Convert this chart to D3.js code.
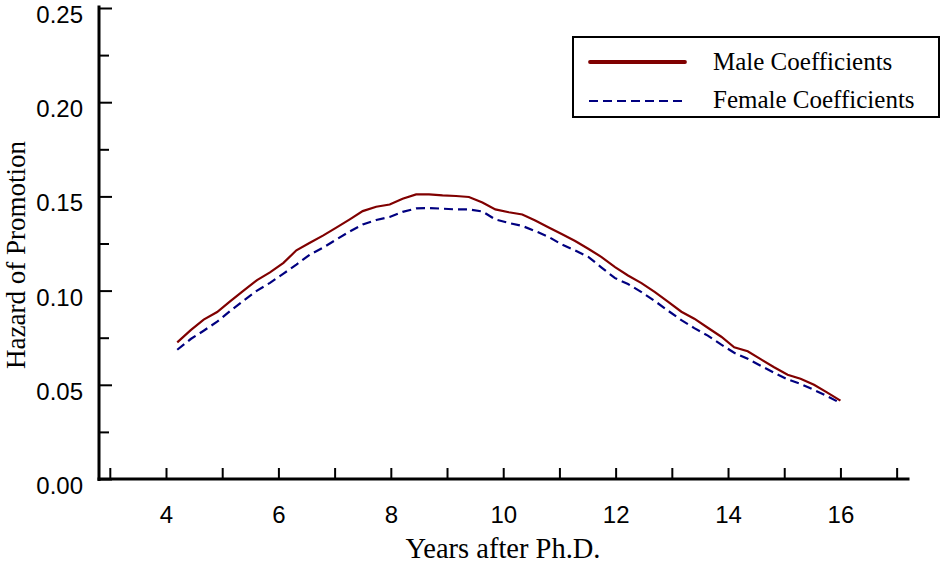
<!DOCTYPE html>
<html>
<head>
<meta charset="utf-8">
<script src="https://cdn.jsdelivr.net/npm/d3@7"></script>
<style>
  body { margin: 0; background: #fff; }
  svg { display: block; }
</style>
</head>
<body>
<script>
// Years after Ph.D. (sample points of both curves)
var years = [4.20, 4.44, 4.67, 4.91, 5.14, 5.38, 5.62, 5.85, 6.09, 6.32,
             6.56, 6.80, 7.03, 7.27, 7.50, 7.74, 7.98, 8.21, 8.45, 8.68,
             8.92, 9.16, 9.39, 9.63, 9.86, 10.10, 10.34, 10.57, 10.81, 11.04,
             11.28, 11.52, 11.75, 11.99, 12.22, 12.46, 12.70, 12.93, 13.17, 13.40,
             13.64, 13.88, 14.11, 14.35, 14.58, 14.82, 15.06, 15.29, 15.53, 15.76,
             16.00];

// hazard of promotion, male coefficients
var maleHazard = [0.0725, 0.0790, 0.0846, 0.0886, 0.0943, 0.1000, 0.1056, 0.1097, 0.1147, 0.1214,
                  0.1254, 0.1293, 0.1334, 0.1378, 0.1422, 0.1445, 0.1457, 0.1488, 0.1511, 0.1511,
                  0.1505, 0.1502, 0.1497, 0.1468, 0.1431, 0.1416, 0.1404, 0.1372, 0.1335, 0.1300,
                  0.1263, 0.1221, 0.1178, 0.1125, 0.1080, 0.1040, 0.0992, 0.0941, 0.0888, 0.0851,
                  0.0803, 0.0755, 0.0699, 0.0678, 0.0636, 0.0593, 0.0553, 0.0532, 0.0500, 0.0460,
                  0.0416];

// hazard of promotion, female coefficients
var femaleHazard = [0.0686, 0.0743, 0.0787, 0.0835, 0.0891, 0.0947, 0.1000, 0.1041, 0.1090, 0.1138,
                    0.1191, 0.1229, 0.1271, 0.1314, 0.1351, 0.1375, 0.1391, 0.1418, 0.1436, 0.1438,
                    0.1435, 0.1431, 0.1431, 0.1420, 0.1378, 0.1359, 0.1343, 0.1316, 0.1285, 0.1245,
                    0.1213, 0.1178, 0.1122, 0.1066, 0.1035, 0.0992, 0.0944, 0.0894, 0.0843, 0.0801,
                    0.0761, 0.0713, 0.0670, 0.0638, 0.0601, 0.0564, 0.0529, 0.0505, 0.0473, 0.0441,
                    0.0403];

// axis ticks
var xTicks = [3, 4, 5, 6, 7, 8, 9, 10, 11, 12, 13, 14, 15, 16, 17];
var xLabels = [4, 6, 8, 10, 12, 14, 16];
var yMajor = [0, 0.05, 0.10, 0.15, 0.20, 0.25];
var yMinor = [0.025, 0.075, 0.125, 0.175, 0.225];

var seriesNames = ["Male Coefficients", "Female Coefficients"];

var w = 944, h = 565;
var sans = "'Liberation Sans', Arial, Helvetica, sans-serif";
var serif = "'Liberation Serif', 'Times New Roman', Times, serif";

var svg = d3.select("body").append("svg")
            .attr("width", w)
            .attr("height", h);

// scales (range = where the axis lines sit)
var xScale = d3.scaleLinear().domain([2.79, 17.22]).range([98, 909]);
var yScale = d3.scaleLinear().domain([0, 0.25]).range([479, 8]);

// x axis, ticks pointing up
var xAxis = svg.append("g")
               .attr("transform", "translate(0, 479)")
               .call(d3.axisBottom(xScale)
                       .tickValues(xTicks)
                       .tickSizeInner(-11)
                       .tickSizeOuter(0)
                       .tickFormat(d => xLabels.indexOf(d) >= 0 ? d : ""));

xAxis.select(".domain").attr("stroke", "#000").attr("stroke-width", 3)
     .attr("d", "M97.5,0H909.5");
xAxis.selectAll(".tick line").attr("stroke-width", 2);
xAxis.selectAll(".tick text")
     .attr("y", 44)
     .attr("dy", 0)
     .attr("font-family", sans)
     .attr("font-size", 24)
     .attr("fill", "#000");

// y axis, major ticks
var yAxis = svg.append("g")
               .attr("transform", "translate(99, 0)")
               .call(d3.axisLeft(yScale)
                       .tickValues(yMajor)
                       .tickSizeInner(-13)
                       .tickSizeOuter(0)
                       .tickFormat(d3.format(".2f")));

yAxis.select(".domain").attr("stroke", "#000").attr("stroke-width", 3)
     .attr("d", "M0,5.5V481");
yAxis.selectAll(".tick line").attr("stroke-width", 2);
yAxis.selectAll(".tick text")
     .attr("x", -16)
     .attr("dy", "0.6em")
     .attr("font-family", sans)
     .attr("font-size", 24)
     .attr("fill", "#000");

// y axis, minor ticks
var yMinorAxis = svg.append("g")
                    .attr("transform", "translate(99, 0)")
                    .call(d3.axisLeft(yScale)
                            .tickValues(yMinor)
                            .tickSizeInner(-10)
                            .tickSizeOuter(0)
                            .tickFormat(""));
yMinorAxis.select(".domain").remove();
yMinorAxis.selectAll(".tick line").attr("stroke-width", 2);

// axis titles
svg.append("text")
   .attr("x", 503)
   .attr("y", 558)
   .attr("text-anchor", "middle")
   .attr("font-family", serif)
   .attr("font-size", 28.5)
   .text("Years after Ph.D.");

svg.append("text")
   .attr("transform", "translate(25, 255) rotate(-90)")
   .attr("text-anchor", "middle")
   .attr("font-family", serif)
   .attr("font-size", 27)
   .text("Hazard of Promotion");

// lines
var line = d3.line()
             .x((d, i) => xScale(years[i]))
             .y(d => yScale(d));

svg.append("path")
   .attr("d", line(femaleHazard))
   .attr("fill", "none")
   .attr("stroke", "#000080")
   .attr("stroke-width", 2.2)
   .attr("stroke-dasharray", "9,5");

svg.append("path")
   .attr("d", line(maleHazard))
   .attr("fill", "none")
   .attr("stroke", "#800000")
   .attr("stroke-width", 2.2);

// legend
var legend = svg.append("g");

legend.append("rect")
      .attr("x", 573)
      .attr("y", 37)
      .attr("width", 366)
      .attr("height", 80)
      .attr("fill", "#fff")
      .attr("stroke", "#000")
      .attr("stroke-width", 2);

legend.append("line")
      .attr("x1", 590).attr("x2", 685)
      .attr("y1", 62).attr("y2", 62)
      .attr("stroke", "#800000")
      .attr("stroke-width", 3.8)
      .attr("stroke-linecap", "round");

legend.append("line")
      .attr("x1", 589).attr("x2", 685)
      .attr("y1", 101).attr("y2", 101)
      .attr("stroke", "#000080")
      .attr("stroke-width", 2)
      .attr("stroke-dasharray", "9,5");

legend.selectAll("text.lab")
      .data(seriesNames)
      .enter().append("text")
      .attr("class", "lab")
      .attr("x", 713)
      .attr("y", (d, i) => i == 0 ? 70 : 108)
      .attr("font-family", serif)
      .attr("font-size", 25)
      .text(d => d);
</script>
</body>
</html>
